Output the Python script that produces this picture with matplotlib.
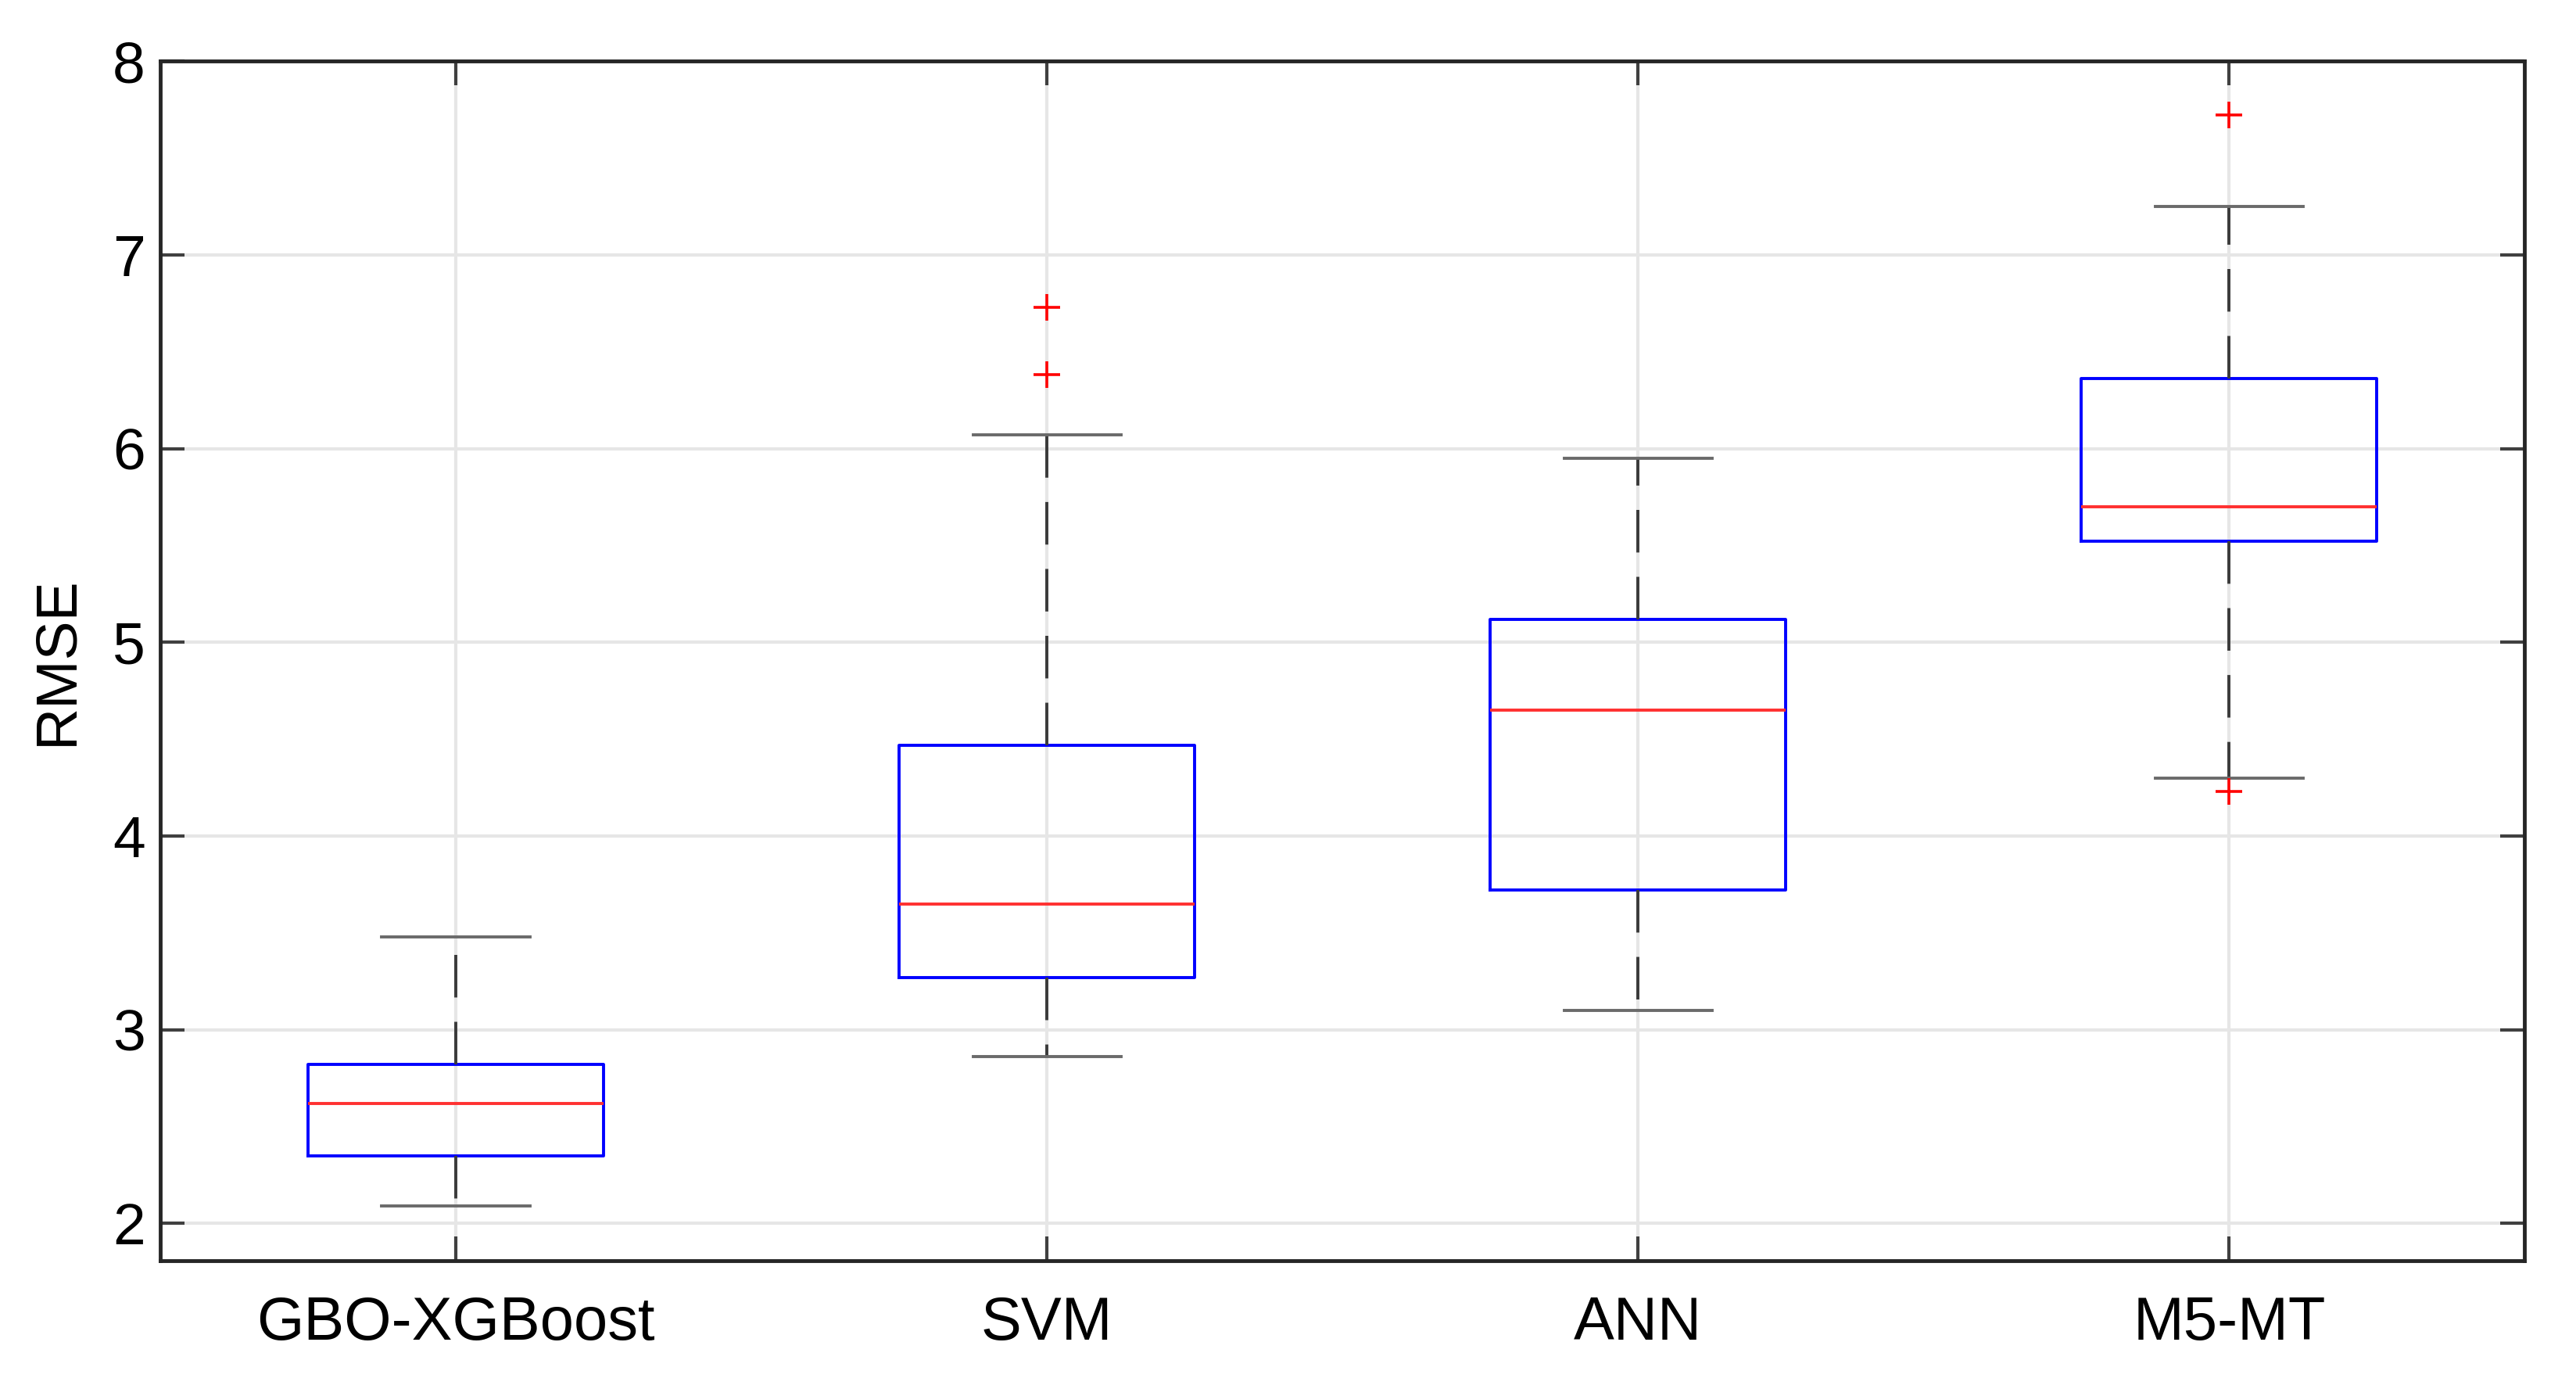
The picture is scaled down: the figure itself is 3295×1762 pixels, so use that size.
import matplotlib
matplotlib.use("Agg")
import matplotlib.pyplot as plt

categories = ["GBO-XGBoost", "SVM", "ANN", "M5-MT"]
whislo = [2.09, 2.86, 3.10, 4.30]
q1 = [2.35, 3.27, 3.72, 5.52]
med = [2.62, 3.65, 4.65, 5.70]
q3 = [2.82, 4.47, 5.12, 6.36]
whishi = [3.48, 6.07, 5.95, 7.25]
fliers = [[], [6.73, 6.38], [], [7.72, 4.23]]
yticks = [2, 3, 4, 5, 6, 7, 8]

plt.rcParams['font.family'] = ['Liberation Sans', 'DejaVu Sans']

fig = plt.figure(figsize=(32.95, 17.62), dpi=100)
ax = fig.add_axes([0.0622, 0.0854, 0.9179, 0.8703])

stats = []
for i, c in enumerate(categories):
    stats.append(dict(label=c, whislo=whislo[i], q1=q1[i], med=med[i],
                      q3=q3[i], whishi=whishi[i], fliers=fliers[i]))

ax.bxp(stats, positions=range(1, len(categories) + 1), widths=0.5,
       showfliers=True,
       boxprops=dict(color='#0000ff', linewidth=2.8),
       medianprops=dict(color='#ff3030', linewidth=2.8),
       whiskerprops=dict(color='#3a3a3a', linewidth=2.8, linestyle=(0, (14, 8))),
       capprops=dict(color='#6a6a6a', linewidth=2.8),
       capwidths=0.25,
       flierprops=dict(marker='+', markeredgecolor='#ff0000', markersize=24,
                       markeredgewidth=2.6, linestyle='none'),
       zorder=3)

ax.set_xlim(0.5, 4.5)
ax.set_ylim(1.81, 8)
ax.set_yticks(yticks)
ax.set_xticks(range(1, len(categories) + 1))
ax.set_xticklabels(categories)
ax.grid(True, color='#e6e6e6', linewidth=3, zorder=0)
ax.set_axisbelow(True)
ax.tick_params(axis='both', direction='in', length=22, width=3, color='#404040',
               labelsize=54, top=True, right=True, pad=14)
ax.tick_params(axis='x', pad=32, labelsize=56)
for s in ax.spines.values():
    s.set_linewidth(3.5)
    s.set_color('#262626')
ax.set_ylabel("RMSE", fontsize=54, labelpad=26)

fig.savefig("out.png", dpi=100, facecolor='white')
